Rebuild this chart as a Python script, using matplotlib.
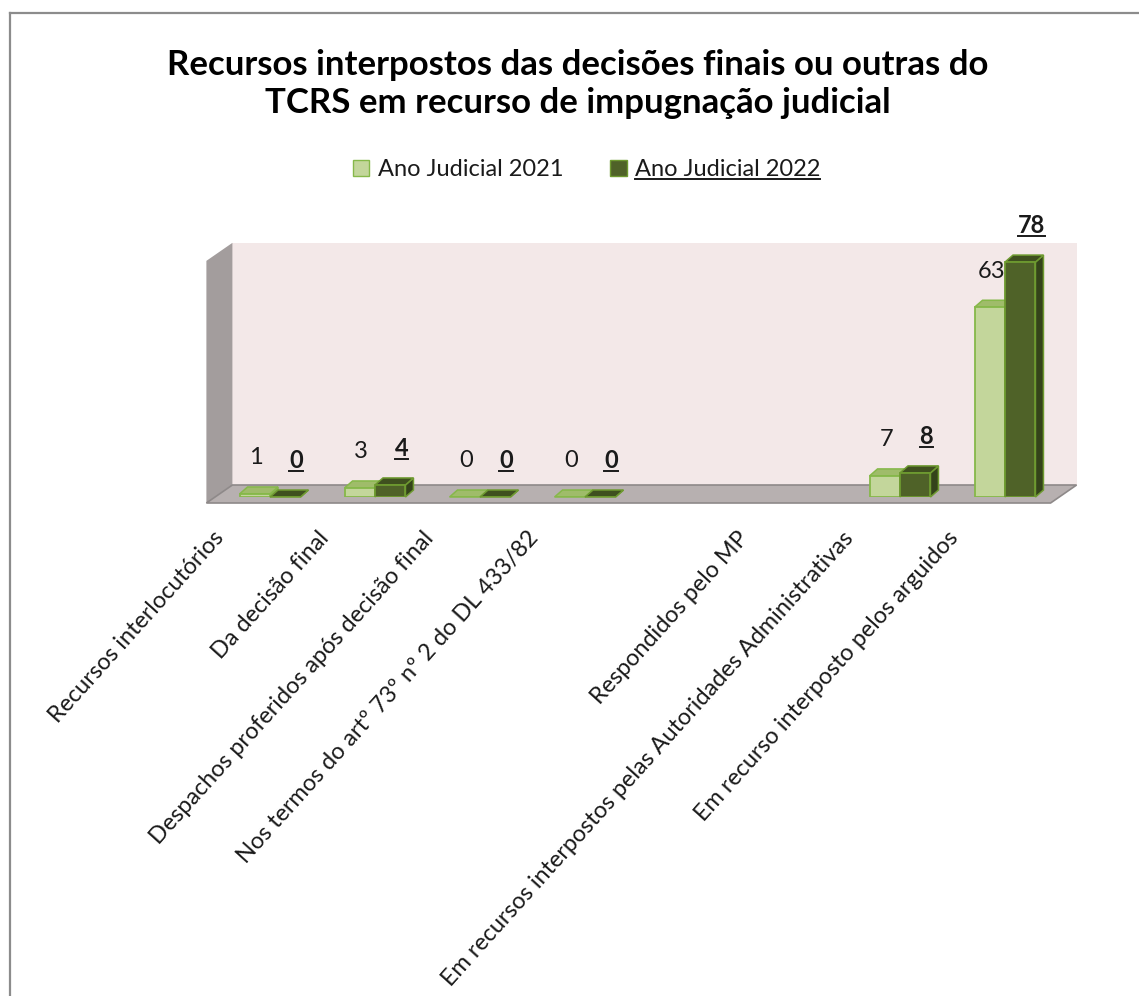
import matplotlib.pyplot as plt
from matplotlib.patches import Polygon, Patch
from matplotlib.lines import Line2D
from matplotlib.transforms import IdentityTransform, ScaledTranslation

plt.rcParams['font.family'] = ['Lato', 'DejaVu Sans']

# dados
CATEGORIAS = [
    "Recursos interlocutórios",
    "Da decisão final",
    "Despachos proferidos após decisão final",
    "Nos termos do artº 73º nº 2 do DL 433/82",
    "",
    "Respondidos pelo MP",
    "Em recursos interpostos pelas Autoridades Administrativas",
    "Em recurso interposto pelos arguidos",
]
ANO_2021 = [1, 3, 0, 0, None, None, 7, 63]
ANO_2022 = [0, 4, 0, 0, None, None, 8, 78]
SERIES = ["Ano Judicial 2021", "Ano Judicial 2022"]

TITULO = "Recursos interpostos das decisões finais ou outras do\nTCRS em recurso de impugnação judicial"

# cores
LIGHT = dict(front="#c3d69b", top="#9fbc6a", side="#8aa85a", edge="#86b84a")
DARK = dict(front="#4f6228", top="#3f501f", side="#34431a", edge="#6e9a30")
WALL = "#f3e8e8"
SIDE_WALL = "#a39d9d"
FLOOR = "#b7b0b0"
FLOOR_EDGE = "#8e8989"
TXT = "#1a1a1a"

W, H = 1139, 996
fig = plt.figure(figsize=(W / 100, H / 100), dpi=100)

# moldura
fig.add_artist(Line2D([10 / W, 10 / W], [0, 1 - 13 / H], color="#8c8c8c", lw=1.6))
fig.add_artist(Line2D([10 / W, 1], [1 - 13 / H, 1 - 13 / H], color="#8c8c8c", lw=1.6))

fig.text(0.507, 1 - 84 / H, TITULO, ha="center", va="center", fontsize=25,
         fontweight="bold", linespacing=1.25)

ax = fig.add_axes([207 / W, (H - 497) / H, 871.5 / W, 256 / H])
ax.set_xlim(-0.6, 7.7)
ax.set_ylim(0, 85)
for s in ax.spines.values():
    s.set_visible(False)
ax.set_yticks([])
ax.patch.set_visible(False)

x = list(range(len(CATEGORIAS)))
bw = 0.29
BACK = (17, 12)    # deslocamento da parede do fundo (px)
FRONT = (-9, -6)   # deslocamento da aresta frontal do chão (px)
DEPTH = (8, 7)     # profundidade das barras (px)


def disp(xv, yv, d=(0, 0)):
    X, Y = ax.transData.transform((xv, yv))
    return (X + d[0], Y + d[1])


def poly(pts, fc, ec="none", lw=0.0, z=1):
    ax.add_patch(Polygon(pts, closed=True, facecolor=fc, edgecolor=ec, lw=lw,
                         transform=IdentityTransform(), zorder=z, clip_on=False))


# paredes e chão
x0, x1, topo = -0.52, 7.52, 80.4
poly([disp(x0, 0, BACK), disp(x1, 0, BACK), disp(x1, topo, BACK), disp(x0, topo, BACK)], WALL, z=0)
poly([disp(x0, 0, FRONT), disp(x0, 0, BACK), disp(x0, topo, BACK), disp(x0, topo, FRONT)], SIDE_WALL, z=0.2)
poly([disp(x0, 0, FRONT), disp(x1, 0, FRONT), disp(x1, 0, BACK), disp(x0, 0, BACK)], FLOOR,
     ec=FLOOR_EDGE, lw=1.2, z=0.4)


def barras(offset, vals, cores, z):
    xs = [xi + offset for xi, v in zip(x, vals) if v is not None]
    vs = [v for v in vals if v is not None]
    ax.bar(xs, vs, width=bw, color=cores["front"], edgecolor=cores["edge"],
           linewidth=1.3, zorder=z + 0.5)
    for xc, v in zip(xs, vs):
        xl, xr = xc - bw / 2, xc + bw / 2
        poly([disp(xr, 0), disp(xr, 0, DEPTH), disp(xr, v, DEPTH), disp(xr, v)],
             cores["side"], ec=cores["edge"], lw=1.1, z=z)
        poly([disp(xl, v), disp(xr, v), disp(xr, v, DEPTH), disp(xl, v, DEPTH)],
             cores["top"], ec=cores["edge"], lw=1.1, z=z)
    return xs, vs


xs1, vs1 = barras(-bw / 2, ANO_2021, LIGHT, 2)
xs2, vs2 = barras(bw / 2, ANO_2022, DARK, 3)

sublinhar = []

# rótulos de dados
for xc, v in zip(xs1, vs1):
    ax.annotate(str(v), (xc, v), xytext=(1, 26), textcoords="offset points",
                ha="center", va="center", fontsize=17, color=TXT, zorder=5)
for xc, v in zip(xs2, vs2):
    t = ax.annotate(str(v), (xc, v), xytext=(8, 26), textcoords="offset points",
                    ha="center", va="center", fontsize=17, fontweight="bold",
                    color=TXT, zorder=5)
    sublinhar.append(t)

# rótulos das categorias
ax.set_xticks(x)
ax.set_xticklabels(CATEGORIAS, rotation=48, ha="right", rotation_mode="anchor",
                   fontsize=16.8, color=TXT)
ax.tick_params(axis="x", length=0, pad=22)
shift = ScaledTranslation(-58 / 100, 0, fig.dpi_scale_trans)
for lab in ax.get_xticklabels():
    lab.set_transform(lab.get_transform() + shift)

# legenda
handles = [Patch(facecolor=LIGHT["front"], edgecolor=LIGHT["edge"]),
           Patch(facecolor=DARK["front"], edgecolor=DARK["edge"])]
leg = fig.legend(handles, SERIES, loc="center", bbox_to_anchor=(0.515, 1 - 170 / H), ncol=2,
                 frameon=False, fontsize=17, handlelength=0.7, handleheight=0.7,
                 handletextpad=0.35, columnspacing=2.0)
for t in leg.get_texts():
    t.set_color(TXT)
sublinhar.append(leg.get_texts()[1])

# sublinhados
fig.canvas.draw()
r = fig.canvas.get_renderer()
for t in sublinhar:
    bb = t.get_window_extent(r)
    yl = bb.y0 + 1
    fig.add_artist(Line2D([bb.x0 / W, bb.x1 / W], [yl / H, yl / H], color=TXT, lw=1.4))

fig.savefig("out.png", dpi=100)
